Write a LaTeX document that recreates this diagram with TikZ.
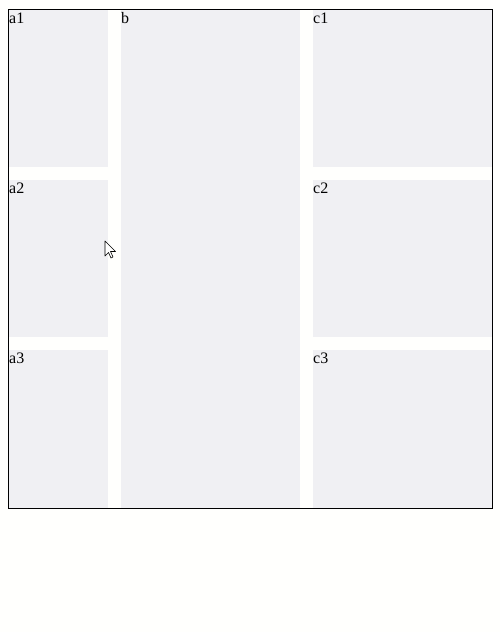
\documentclass[tikz,border=0pt]{standalone}
\usepackage{fontspec}
\setmainfont{Liberation Serif}
\usetikzlibrary{positioning}
\definecolor{panelgray}{RGB}{240,240,243}
\definecolor{pagebg}{RGB}{255,255,253}

\begin{document}
\begin{tikzpicture}[x=1pt, y=-1pt]
\tikzset{
  panel/.style={fill=panelgray, draw=none, anchor=north west, inner sep=0pt},
  tag/.style={anchor=base west, inner sep=0pt, font=\fontsize{16}{18}\selectfont}
}
\def\colA{9}
\def\colB{121}
\def\colC{313}
\def\rowA{10}
\def\rowB{180}
\def\rowC{350}
\def\base{13}
\fill[pagebg] (0,0) rectangle (500,632);
\useasboundingbox (0,0) rectangle (500,632);
\draw[line width=1pt] (8.5,9.5) rectangle (492.5,508.5);

\node[panel, minimum width=99pt, minimum height=157pt] (A1) at (\colA,\rowA) {};
\node[panel, minimum width=99pt, minimum height=157pt] (A2) at (\colA,\rowB) {};
\node[panel, minimum width=99pt, minimum height=158pt] (A3) at (\colA,\rowC) {};

\node[panel, minimum width=179pt, minimum height=498pt] (B) at (\colB,\rowA) {};

\node[panel, minimum width=179pt, minimum height=157pt] (C1) at (\colC,\rowA) {};
\node[panel, minimum width=179pt, minimum height=157pt] (C2) at (\colC,\rowB) {};
\node[panel, minimum width=179pt, minimum height=158pt] (C3) at (\colC,\rowC) {};

\node[tag] at ([yshift=-\base pt]A1.north west) {a1};
\node[tag] at ([yshift=-\base pt]A2.north west) {a2};
\node[tag] at ([yshift=-\base pt]A3.north west) {a3};
\node[tag] at ([yshift=-\base pt]B.north west) {b};
\node[tag] at ([yshift=-\base pt]C1.north west) {c1};
\node[tag] at ([yshift=-\base pt]C2.north west) {c2};
\node[tag] at ([yshift=-\base pt]C3.north west) {c3};

% mouse pointer
\draw[fill=white, line width=0.6pt, line join=round]
  (105,241) -- (105,256) -- (108.5,252.5) -- (111,258) -- (113,257) -- (110.5,251.5) -- (115.5,251.5) -- cycle;
\end{tikzpicture}
\end{document}
